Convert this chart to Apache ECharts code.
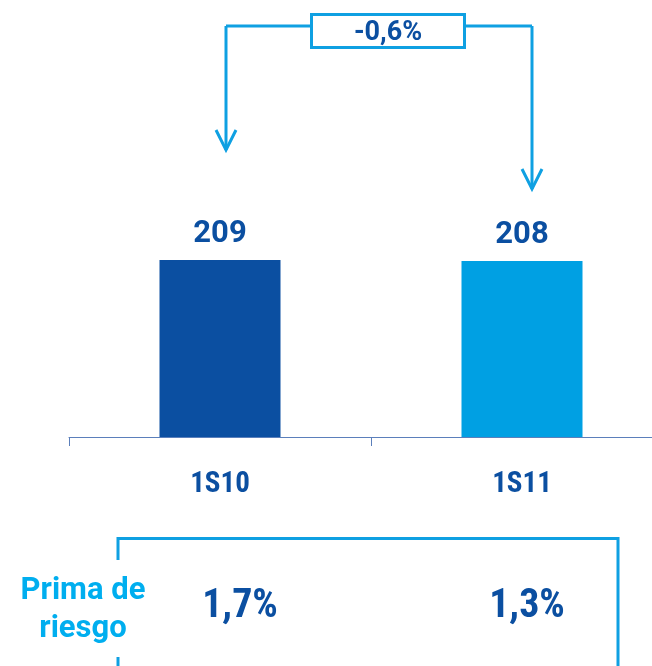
<!DOCTYPE html>
<html><head><meta charset="utf-8">
<script src="https://cdn.jsdelivr.net/npm/echarts@6/dist/echarts.min.js"></script>
<style>html,body{margin:0;padding:0;background:#fff;overflow:hidden}#c{width:700px;height:666px}</style>
</head><body><div id="c"></div>
<script>
const categories = ['1S10', '1S11'];
const values = [209, 208];
const barColors = ['#0b4fa1', '#00a0e3'];
const changeLabel = '-0,6%';
const riskLabel = ['Prima de', 'riesgo'];
const riskPremium = ['1,7%', '1,3%'];

const DARK = '#0b4fa1', CYAN = '#0fa0e2', CYANTXT = '#00aeef';
const FONT = 'Roboto, sans-serif';

const chart = echarts.init(document.getElementById('c'), null, {renderer: 'canvas'});
const line = (pts, w) => ({type: 'polyline', shape: {points: pts}, style: {stroke: CYAN, lineWidth: w || 3, fill: null}, silent: true});

chart.setOption({
  animation: false,
  grid: {left: 69, right: 27, top: 98.3, bottom: 229},
  xAxis: {
    type: 'category', data: categories,
    axisLine: {show: true, lineStyle: {color: '#5b7fbb', width: 1}},
    axisTick: {show: true, length: 9, lineStyle: {color: '#5b7fbb', width: 1}},
    axisLabel: {margin: 33, color: DARK, fontStyle: 'condensed', fontFamily: FONT, fontWeight: 'bold', fontSize: 29}
  },
  yAxis: {type: 'value', min: 0, max: 400, show: false, splitLine: {show: false}},
  series: [{
    type: 'bar', barWidth: 121,
    data: values.map((v, i) => ({value: v, itemStyle: {color: barColors[i]}})),
    label: {show: true, position: 'top', distance: 10, color: DARK, fontFamily: FONT, fontWeight: 'bold', fontSize: 31}
  }],
  graphic: [
    // change annotation
    line([[226, 26], [311, 26]]),
    line([[226, 26], [226, 150]]),
    line([[216, 130], [226, 150], [236, 130]]),
    line([[465, 26], [532, 26]]),
    line([[532, 26], [532, 189]]),
    line([[522, 169], [532, 189], [542, 169]]),
    {type: 'rect', shape: {x: 311.5, y: 14.5, width: 153, height: 33}, style: {stroke: CYAN, lineWidth: 3, fill: '#fff'}, silent: true},
    {type: 'text', x: 388, y: 33, style: {text: changeLabel, fill: DARK, font: 'bold 27px ' + FONT, align: 'center', verticalAlign: 'middle'}},
    // risk premium box
    line([[118, 560], [118, 538.5], [618, 538.5], [618, 666]]),
    line([[118, 657], [118, 666]]),
    {type: 'text', x: 83, y: 591, style: {text: riskLabel[0], fill: CYANTXT, font: 'bold 31px ' + FONT, align: 'center', verticalAlign: 'middle'}},
    {type: 'text', x: 83, y: 629, style: {text: riskLabel[1], fill: CYANTXT, font: 'bold 31px ' + FONT, align: 'center', verticalAlign: 'middle'}},
    {type: 'text', x: 240, y: 607, style: {text: riskPremium[0], fill: DARK, font: 'condensed bold 40px ' + FONT, align: 'center', verticalAlign: 'middle'}},
    {type: 'text', x: 527, y: 607, style: {text: riskPremium[1], fill: DARK, font: 'condensed bold 40px ' + FONT, align: 'center', verticalAlign: 'middle'}}
  ]
});
</script></body></html>
